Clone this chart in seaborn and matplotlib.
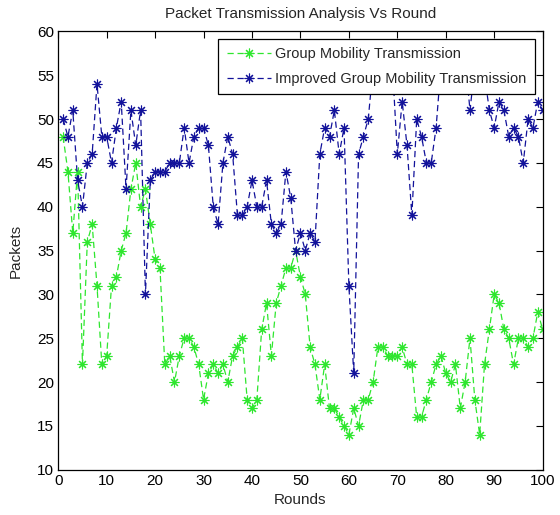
import matplotlib
matplotlib.use("Agg")
import matplotlib.pyplot as plt
import seaborn as sns
import pandas as pd

rounds = list(range(1, 101))

group_mobility = [
    48, 44, 37, 44, 22, 36, 38, 31, 22, 23,
    31, 32, 35, 37, 42, 45, 40, 42, 38, 34,
    33, 22, 23, 20, 23, 25, 25, 24, 22, 18,
    21, 22, 21, 22, 20, 23, 24, 25, 18, 17,
    18, 26, 29, 23, 29, 31, 33, 33, 35, 32,
    30, 24, 22, 18, 22, 17, 17, 16, 15, 14,
    17, 15, 18, 18, 20, 24, 24, 23, 23, 23,
    24, 22, 22, 16, 16, 18, 20, 22, 23, 21,
    20, 22, 17, 20, 25, 18, 14, 22, 26, 30,
    29, 26, 25, 22, 25, 25, 24, 25, 28, 26,
]

improved_mobility = [
    50, 48, 51, 43, 40, 45, 46, 54, 48, 48,
    45, 49, 52, 42, 51, 47, 51, 30, 43, 44,
    44, 44, 45, 45, 45, 49, 45, 48, 49, 49,
    47, 40, 38, 45, 48, 46, 39, 39, 40, 43,
    40, 40, 43, 38, 37, 38, 44, 41, 35, 37,
    35, 37, 36, 46, 49, 48, 51, 46, 49, 31,
    21, 46, 48, 50, 56, 57, 55, 58, 56, 46,
    52, 47, 39, 50, 48, 45, 45, 49, 56, 57,
    55, 58, 56, 57, 51, 56, 58, 55, 51, 49,
    52, 51, 48, 49, 48, 45, 50, 49, 52, 51,
]

labels = ["Group Mobility Transmission", "Improved Group Mobility Transmission"]
colors = ["#2ee62e", "#12129a"]
x_ticks = [0, 10, 20, 30, 40, 50, 60, 70, 80, 90, 100]
y_ticks = [10, 15, 20, 25, 30, 35, 40, 45, 50, 55, 60]

sns.set_style("white")
plt.rcParams["font.family"] = ["Liberation Sans", "DejaVu Sans"]

fig = plt.figure(figsize=(5.6, 5.15), dpi=100)
ax = fig.add_axes([0.104, 0.088, 0.865, 0.851])

marker = (8, 2, 0)
for series, lab, col in [(group_mobility, labels[0], colors[0]),
                         (improved_mobility, labels[1], colors[1])]:
    sns.lineplot(x=rounds, y=series, ax=ax, color=col, label=lab,
                 linestyle="--", dashes=False, marker=marker, markersize=7,
                 markeredgewidth=0.8, markeredgecolor=col, linewidth=0.9)
for line in ax.get_lines():
    line.set_dashes((5, 3))

ax.set_xlim(0, 100)
ax.set_ylim(10, 60)
ax.set_xticks(x_ticks)
ax.set_yticks(y_ticks)
ax.tick_params(direction="in", top=True, right=True, length=5, width=0.8,
               labelsize=11, pad=3, colors="black")
for s in ax.spines.values():
    s.set_color("black")
    s.set_linewidth(0.9)

ax.set_title("Packet Transmission Analysis Vs Round", fontsize=11, pad=10)
ax.set_xlabel("Rounds", fontsize=11, labelpad=4)
ax.set_ylabel("Packets", fontsize=11, labelpad=10)

leg = ax.legend(loc="upper right", fontsize=10.5, frameon=True, fancybox=False,
                framealpha=1, edgecolor="black", borderpad=0.6,
                handlelength=3.0, handletextpad=0.3, labelspacing=0.7,
                borderaxespad=0.5)
leg.get_frame().set_linewidth(0.9)

fig.savefig("out.png", dpi=100)
